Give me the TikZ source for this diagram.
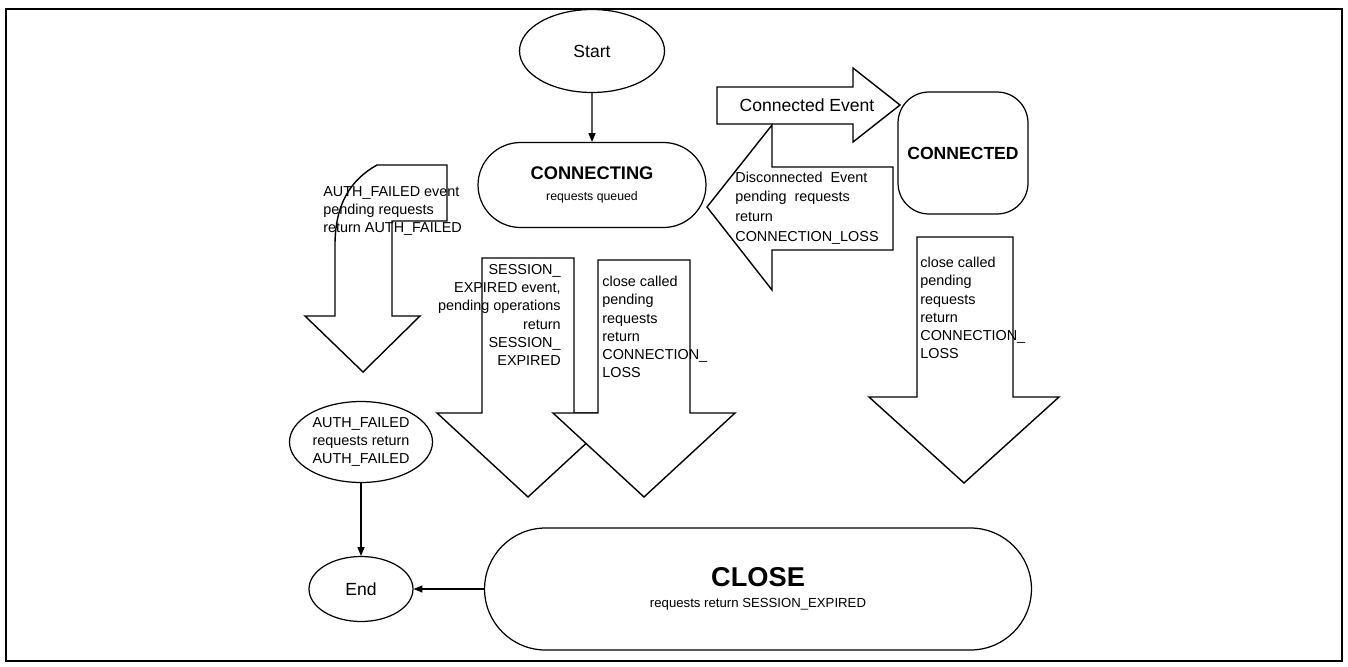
\documentclass[tikz,border=0pt]{standalone}
\usepackage{fontspec}
\setmainfont{Liberation Sans}
\usetikzlibrary{shapes.geometric,shapes.misc,arrows.meta}
\tikzstyle{st}=[ellipse,draw=black,line width=0.7pt,inner sep=0pt,align=center]
\tikzstyle{rr}=[rounded rectangle,draw=black,line width=0.7pt,inner sep=0pt,align=center]
\tikzstyle{blk}=[draw=black,fill=white,line width=0.8pt]
\tikzstyle{note}=[inner sep=0pt,font=\fontsize{8.2}{10.4}\selectfont]
\tikzstyle{flow}=[-{Triangle[length=5pt,width=4pt]},line width=0.6pt]

\begin{document}
\begin{tikzpicture}[x=0.02cm,y=-0.02cm]
    \useasboundingbox (0,0) rectangle (1348,666);
    \draw [line width=0.8pt] (6,9) rectangle (1342,661);

    % states
    \node [style=st,minimum width=2.9cm,minimum height=1.66cm,font=\fontsize{10}{12}\selectfont] (start) at (592,51) {Start};
    \node [style=rr,minimum width=4.56cm,minimum height=1.7cm] (connecting) at (592,185) {{\fontsize{10.4}{13}\selectfont\bfseries CONNECTING}\\{\fontsize{7}{9}\selectfont requests queued}};
    \node [draw=black,line width=0.7pt,rounded corners=0.62cm,minimum width=2.6cm,minimum height=2.44cm,font=\fontsize{10}{12}\selectfont\bfseries] (connected) at (963,153) {CONNECTED};
    \node [style=st,minimum width=2.86cm,minimum height=1.62cm,font=\fontsize{8.2}{10.5}\selectfont] (authf) at (361,442) {AUTH\_FAILED\\requests return\\AUTH\_FAILED};
    \node [style=st,minimum width=2.08cm,minimum height=1.3cm,font=\fontsize{10}{12}\selectfont] (finish) at (361,589) {End};
    \node [style=rr,minimum width=10.94cm,minimum height=2.44cm] (close) at (758,589) {{\fontsize{15.5}{18}\selectfont\bfseries CLOSE}\\{\fontsize{7.5}{9}\selectfont requests return SESSION\_EXPIRED}};

    \draw [style=flow] (start) to (connecting);
    \draw [style=flow] (authf) to (finish);
    \draw [style=flow] (close) to (finish);

    % block arrows
    \draw [style=blk] (335,316) -- (305,316) -- (363,372) -- (420,316) -- (392,316) -- (392,221) -- (447,221) -- (447,165) -- (377,165) .. controls (350,180) and (335,205) .. (335,245) -- cycle;
    \draw [style=blk] (482,258) -- (574,258) -- (574,413) -- (619,413) -- (528,497) -- (437,413) -- (482,413) -- cycle;
    \draw [style=blk] (598,260) -- (690,260) -- (690,413) -- (735,413) -- (644,497) -- (553,413) -- (598,413) -- cycle;
    \draw [style=blk] (917,237) -- (1013,237) -- (1013,397) -- (1059,397) -- (964,483) -- (869,397) -- (917,397) -- cycle;
    \draw [style=blk] (717,87) -- (853,87) -- (853,68) -- (900,105) -- (853,142) -- (853,124) -- (717,124) -- cycle;
    \draw [style=blk] (707,207) -- (772,125) -- (772,167) -- (893,167) -- (893,250) -- (772,250) -- (772,290) -- cycle;

    % arrow texts
    \node [style=note,align=left,anchor=west] (authtxt) at (323,211) {AUTH\_FAILED event\\pending requests\\return AUTH\_FAILED};
    \node [style=note,align=right,anchor=east] (sesstxt) at (561,315) {SESSION\_\\EXPIRED event,\\pending operations\\return\\SESSION\_\\EXPIRED};
    \node [style=note,align=left,anchor=west] (closetxt) at (602,327) {close called\\pending\\requests\\return\\CONNECTION\_\\LOSS};
    \node [style=note,align=left,anchor=west] (closetxtb) at (920,308) {close called\\pending\\requests\\return\\CONNECTION\_\\LOSS};
    \node [style=note,align=left,anchor=west,font=\fontsize{8.2}{11.3}\selectfont] (disctxt) at (735,208) {Disconnected\ \ Event\\pending\ \ requests\\return\\CONNECTION\_LOSS};
    \node [font=\fontsize{10}{12}\selectfont] (conntxt) at (807,105) {Connected Event};
\end{tikzpicture}
\end{document}
